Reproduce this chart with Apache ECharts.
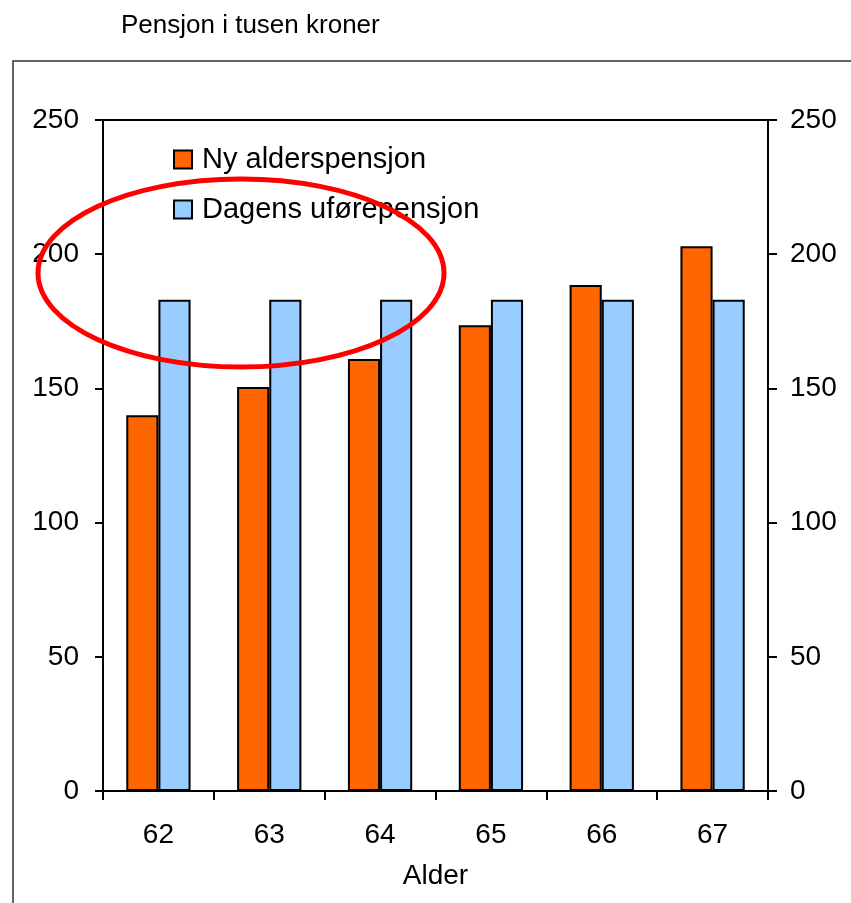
<!DOCTYPE html>
<html>
<head>
<meta charset="utf-8">
<script src="https://cdn.jsdelivr.net/npm/echarts@6/dist/echarts.min.js"></script>
<style>
html,body{margin:0;padding:0;background:#fff;}
#chart{width:851px;height:903px;}
</style>
</head>
<body>
<div id="chart"></div>
<script>
const categories = ['62', '63', '64', '65', '66', '67'];
const nyAlderspensjon = [140, 150.5, 161, 173.5, 188.5, 203];
const dagensUforepensjon = [183, 183, 183, 183, 183, 183];
const seriesNames = ['Ny alderspensjon', 'Dagens uførepensjon'];
const yTicks = { min: 0, max: 250, interval: 50 };

const font = 'Liberation Sans, Arial, sans-serif';
const chart = echarts.init(document.getElementById('chart'), null, { renderer: 'canvas' });

const axisLine = { show: true, lineStyle: { color: '#000', width: 2 } };
const option = {
  backgroundColor: '#fff',
  animation: false,
  textStyle: { fontFamily: font, color: '#000' },
  title: {
    text: 'Pensjon i tusen kroner',
    left: 116, top: 8,
    textStyle: { fontFamily: font, fontSize: 26, fontWeight: 'normal', color: '#000' }
  },
  legend: {
    orient: 'vertical',
    left: 173, top: 145,
    padding: 0,
    itemWidth: 18, itemHeight: 18,
    itemGap: 21,
    icon: 'rect',
    textStyle: { fontFamily: font, fontSize: 29, color: '#000', padding: [0, 0, 0, 5] },
    data: seriesNames
  },
  grid: {
    left: 103, right: 83, top: 120, bottom: 112,
    show: true, borderColor: '#000', borderWidth: 2, backgroundColor: 'transparent'
  },
  xAxis: {
    type: 'category',
    data: categories,
    name: 'Alder',
    nameLocation: 'middle',
    nameGap: 71,
    nameTextStyle: { fontFamily: font, fontSize: 28, color: '#000' },
    axisLine: axisLine,
    axisTick: { show: true, inside: false, length: 9, lineStyle: { color: '#000', width: 2 } },
    axisLabel: { fontFamily: font, fontSize: 28, color: '#000', margin: 30 },
    splitLine: { show: false }
  },
  yAxis: [
    {
      type: 'value', position: 'left',
      min: yTicks.min, max: yTicks.max, interval: yTicks.interval,
      axisLine: axisLine,
      axisTick: { show: true, inside: false, length: 8, lineStyle: { color: '#000', width: 2 } },
      axisLabel: { fontFamily: font, fontSize: 28, color: '#000', margin: 24 },
      splitLine: { show: false }
    },
    {
      type: 'value', position: 'right',
      min: yTicks.min, max: yTicks.max, interval: yTicks.interval,
      axisLine: axisLine,
      axisTick: { show: true, inside: false, length: 9, lineStyle: { color: '#000', width: 2 } },
      axisLabel: { fontFamily: font, fontSize: 28, color: '#000', margin: 22 },
      splitLine: { show: false }
    }
  ],
  series: [
    {
      name: seriesNames[0], type: 'bar', data: nyAlderspensjon,
      barGap: '0%', barCategoryGap: '42%',
      itemStyle: { color: '#FF6600', borderColor: '#000', borderWidth: 2 }
    },
    {
      name: seriesNames[1], type: 'bar', data: dagensUforepensjon,
      barGap: '0%', barCategoryGap: '42%',
      itemStyle: { color: '#99CCFF', borderColor: '#000', borderWidth: 2 }
    }
  ],
  graphic: [
    {
      type: 'rect', silent: true, z: 0,
      shape: { x: 13, y: 61, width: 860, height: 870 },
      style: { fill: 'none', stroke: '#333', lineWidth: 1.5 }
    },
    {
      type: 'ellipse', silent: true, z: 100,
      shape: { cx: 241, cy: 273, rx: 203, ry: 94 },
      style: { fill: 'none', stroke: '#FF0000', lineWidth: 5 }
    }
  ]
};
chart.setOption(option);
</script>
</body>
</html>
